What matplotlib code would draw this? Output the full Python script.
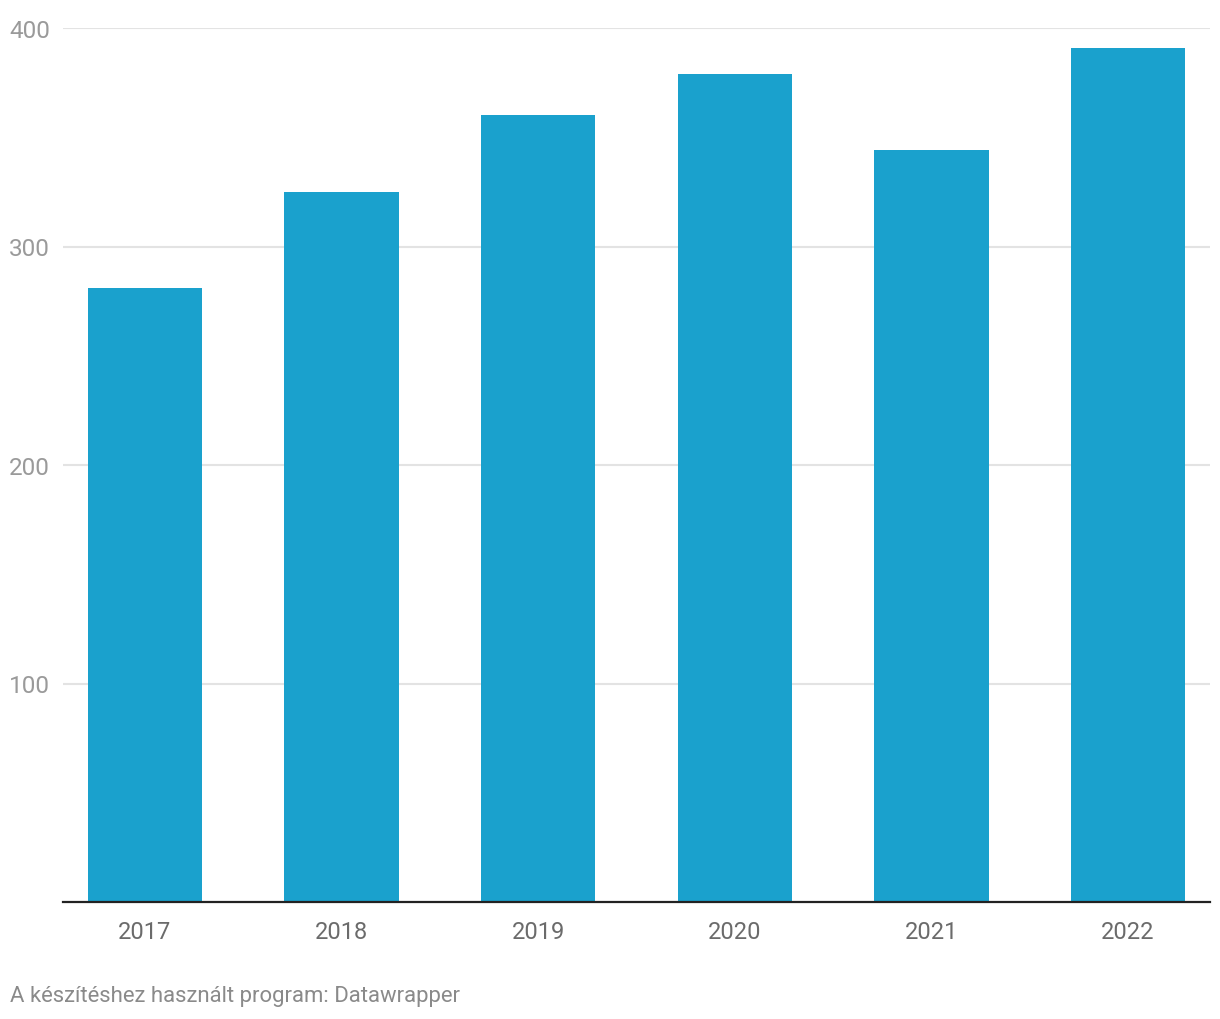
import numpy as np
import matplotlib.pyplot as plt

years = ["2017", "2018", "2019", "2020", "2021", "2022"]
values = [281, 325, 360, 379, 344, 391]
yticks = [100, 200, 300, 400]

plt.rcParams['font.family'] = ['Roboto', 'DejaVu Sans']

fig = plt.figure(figsize=(12.2, 10.2), dpi=100)
ax = fig.add_axes([63/1220, 1 - 903/1020, (1210-63)/1220, (903-29)/1020])

x = np.arange(len(years))
ax.bar(x, values, width=0.582, color="#1aa1cd", zorder=2)

ax.set_xlim(-0.417, 5.417)
ax.set_ylim(0, 400)
ax.set_yticks(yticks)
ax.set_yticklabels([str(t) for t in yticks], color="#9a9a9a", fontsize=17.5)
ax.set_xticks(x)
ax.set_xticklabels(years, color="#6b6b6b", fontsize=17)
ax.tick_params(axis="y", length=0, pad=9.5)
ax.tick_params(axis="x", length=0, pad=13)
ax.grid(axis="y", color="#e3e3e3", linewidth=1.5, zorder=0)

for s in ["top", "right", "left"]:
    ax.spines[s].set_visible(False)
ax.spines["bottom"].set_color("#222222")
ax.spines["bottom"].set_linewidth(1.6)
ax.spines["bottom"].set_zorder(3)

fig.text(10/1220, 1 - 997/1020, "A készítéshez használt program: Datawrapper",
         color="#8a8a8a", fontsize=15.9, va="center", ha="left")

fig.savefig("out.png", dpi=100, facecolor="white")
